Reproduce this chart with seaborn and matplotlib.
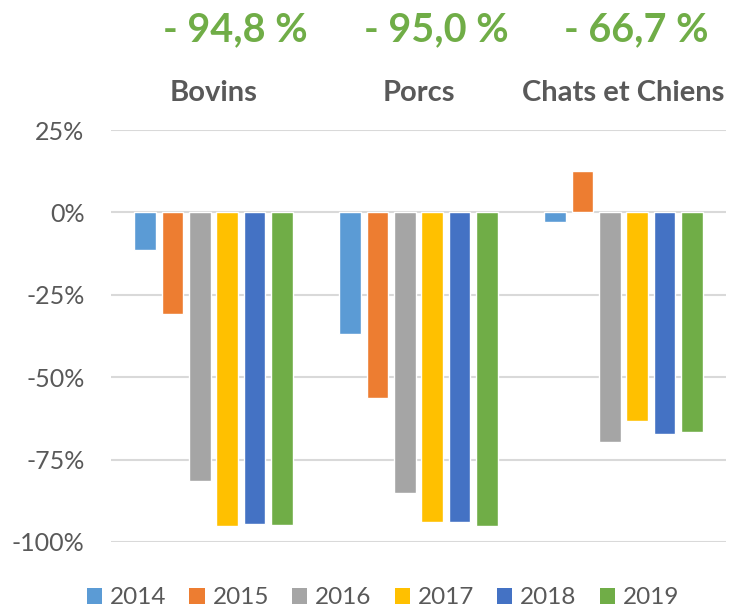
import matplotlib
matplotlib.use("Agg")
import matplotlib.pyplot as plt
import seaborn as sns
import pandas as pd
from matplotlib.patches import Patch

categories = ["Bovins", "Porcs", "Chats et Chiens"]
years = ["2014", "2015", "2016", "2017", "2018", "2019"]
v2014 = [-11.4, -36.8, -3.0]
v2015 = [-30.9, -56.2, 12.7]
v2016 = [-81.5, -85.2, -69.8]
v2017 = [-95.0, -93.8, -63.2]
v2018 = [-94.6, -93.8, -67.3]
v2019 = [-94.8, -95.0, -66.7]
headline = ["- 94,8 %", "- 95,0 %", "- 66,7 %"]
yticks = [25, 0, -25, -50, -75, -100]
colors = ["#5B9BD5", "#ED7D31", "#A5A5A5", "#FFC000", "#4472C4", "#70AD47"]

series = [v2014, v2015, v2016, v2017, v2018, v2019]
rows = []
for y, vals in zip(years, series):
    for c, v in zip(categories, vals):
        rows.append({"cat": c, "year": y, "val": v})
df = pd.DataFrame(rows)

sns.set_theme(style="white")
plt.rcParams['font.family'] = ['Lato', 'DejaVu Sans']

fig = plt.figure(figsize=(7.32, 6.07), dpi=100)
ax = fig.add_axes([0.1516, 0.1071, 0.9918 - 0.1516, 0.7858 - 0.1071])

sns.barplot(data=df, x="cat", y="val", hue="year", order=categories,
            hue_order=years, palette=colors, width=0.8, gap=0.2,
            saturation=1, legend=False, ax=ax, zorder=3)

ax.set_ylim(-100, 25)
ax.set_xlim(-0.5, 2.5)
ax.set_yticks(yticks)
ax.set_yticklabels([f"{t}%" for t in yticks], color="#595959", fontsize=18)
ax.yaxis.grid(True, color="#D9D9D9", linewidth=1.5, zorder=0)
ax.set_axisbelow(True)
for s in ax.spines.values():
    s.set_visible(False)
ax.tick_params(axis="y", length=0, pad=19)
ax.xaxis.tick_top()
ax.tick_params(axis="x", length=0, pad=17)
ax.set_xticks(range(len(categories)))
ax.set_xticklabels(categories, fontsize=21, fontweight="bold", color="#595959")
ax.set_xlabel("")
ax.set_ylabel("")

hx = [235 / 732, 436 / 732, 636 / 732]
for x, t in zip(hx, headline):
    fig.text(x, 1 - 30 / 607, t, ha="center", va="center", fontsize=28.5,
             fontweight="bold", color="#70AD47")

handles = [Patch(facecolor=c, edgecolor="none") for c in colors]
fig.legend(handles, years, loc="center", bbox_to_anchor=(383 / 732, 1 - 598 / 607),
           ncol=6, frameon=False, fontsize=17.5, handlelength=0.62, handleheight=0.62,
           handletextpad=0.33, columnspacing=0.95, labelcolor="#595959",
           borderpad=0, borderaxespad=0)

fig.savefig("out.png", dpi=100)
